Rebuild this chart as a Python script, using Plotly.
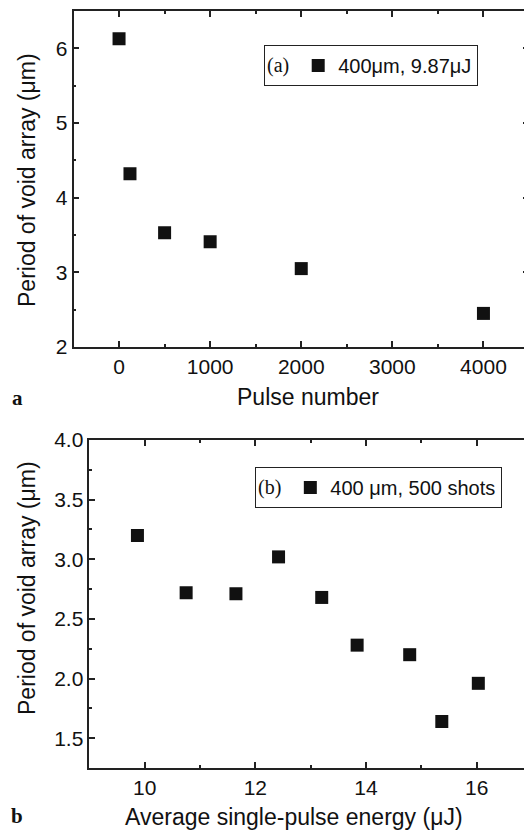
import plotly.graph_objects as go

# Panel (a): period vs pulse number
pulse_number = [0, 120, 500, 1000, 2000, 4000]
period_a = [6.13, 4.32, 3.53, 3.41, 3.05, 2.45]

# Panel (b): period vs average single-pulse energy
energy_uJ = [9.87, 10.75, 11.65, 12.42, 13.2, 13.84, 14.79, 15.37, 16.03]
period_b = [3.20, 2.72, 2.71, 3.02, 2.68, 2.28, 2.20, 1.64, 1.96]

W, H = 532, 830   # figure slightly wider than the window: right frame falls off-screen as in the reference
TICKFONT = dict(family="Liberation Sans, Arial, sans-serif", size=21, color="#111")
TITLEFONT = dict(family="Liberation Sans, Arial, sans-serif", size=23, color="#111")
LINE = "#222"

fig = go.Figure()
fig.add_trace(go.Scatter(
    x=pulse_number, y=period_a, mode="markers", name="400\u03bcm, 9.87\u03bcJ",
    marker=dict(symbol="square", size=13, color="#111"),
    xaxis="x", yaxis="y", legend="legend"))
fig.add_trace(go.Scatter(
    x=energy_uJ, y=period_b, mode="markers", name="400 \u03bcm, 500 shots",
    marker=dict(symbol="square", size=13, color="#111"),
    xaxis="x2", yaxis="y2", legend="legend2"))

def px_x(p):
    return p / W

def px_y(p):
    return 1 - p / H

axis_common = dict(
    showline=True, linecolor=LINE, linewidth=1.5, mirror="ticks",
    ticks="inside", ticklen=6, tickwidth=1.5, tickcolor=LINE,
    showgrid=False, zeroline=False, tickfont=TICKFONT, automargin=False,
)

LEGFONT = dict(family="Liberation Sans, Arial, sans-serif", size=20, color="#111")
LEGTITLE = dict(family="Liberation Serif, Times New Roman, serif", size=20, color="#111")

fig.update_layout(
    width=W, height=H,
    margin=dict(l=0, r=0, t=0, b=0),
    paper_bgcolor="white", plot_bgcolor="white",
    xaxis=dict(domain=[px_x(73.5), px_x(529)], range=[-500, 4500], dtick=1000, anchor="y",
               minor=dict(dtick=500, ticks="inside", ticklen=3, tickcolor=LINE, tickwidth=1.5),
               **axis_common),
    yaxis=dict(domain=[px_y(347), px_y(11)], range=[2, 6.5], dtick=1, anchor="x",
               minor=dict(dtick=0.5, ticks="inside", ticklen=3, tickcolor=LINE, tickwidth=1.5),
               **axis_common),
    xaxis2=dict(domain=[px_x(89.3), 1], range=[9, 17], dtick=2, anchor="y2",
                minor=dict(dtick=1, ticks="inside", ticklen=3, tickcolor=LINE, tickwidth=1.5),
                **axis_common),
    yaxis2=dict(domain=[px_y(768), px_y(440)], range=[1.25, 4.0], dtick=0.5, tickformat=".1f",
                anchor="x2",
                minor=dict(dtick=0.25, ticks="inside", ticklen=3, tickcolor=LINE, tickwidth=1.5),
                **axis_common),
    legend=dict(x=px_x(264), y=px_y(45), xanchor="left", yanchor="top",
                bgcolor="white", bordercolor="#222", borderwidth=1,
                font=LEGFONT, title=dict(text="(a) ", side="left", font=LEGTITLE),
                itemwidth=30, tracegroupgap=0, indentation=-4),
    legend2=dict(x=px_x(255), y=px_y(467), xanchor="left", yanchor="top",
                 bgcolor="white", bordercolor="#222", borderwidth=1,
                 font=LEGFONT, title=dict(text="(b) ", side="left", font=LEGTITLE),
                 itemwidth=30, tracegroupgap=0, indentation=-4),
    showlegend=True,
)

# Axis titles and panel labels
fig.add_annotation(text="Pulse number", x=px_x(308), y=px_y(397), xref="paper", yref="paper",
                   xanchor="center", yanchor="middle", showarrow=False, font=TITLEFONT)
fig.add_annotation(text="Period of void array (\u03bcm)", x=px_x(27), y=px_y(180), xref="paper", yref="paper",
                   xanchor="center", yanchor="middle", showarrow=False, font=TITLEFONT, textangle=-90)
fig.add_annotation(text="Average single-pulse energy (\u03bcJ)", x=px_x(294), y=px_y(817), xref="paper", yref="paper",
                   xanchor="center", yanchor="middle", showarrow=False, font=TITLEFONT)
fig.add_annotation(text="Period of void array (\u03bcm)", x=px_x(27), y=px_y(588), xref="paper", yref="paper",
                   xanchor="center", yanchor="middle", showarrow=False, font=TITLEFONT, textangle=-90)
fig.add_annotation(text="<b>a</b>", x=px_x(17), y=px_y(398), xref="paper", yref="paper",
                   xanchor="center", yanchor="middle", showarrow=False,
                   font=dict(family="Liberation Serif, Times New Roman, serif", size=21, color="#111"))
fig.add_annotation(text="<b>b</b>", x=px_x(17), y=px_y(816), xref="paper", yref="paper",
                   xanchor="center", yanchor="middle", showarrow=False,
                   font=dict(family="Liberation Serif, Times New Roman, serif", size=21, color="#111"))

fig.write_html("out.html", config={"displayModeBar": False},
               post_script="document.body.style.margin='0';document.body.style.overflow='hidden';")
